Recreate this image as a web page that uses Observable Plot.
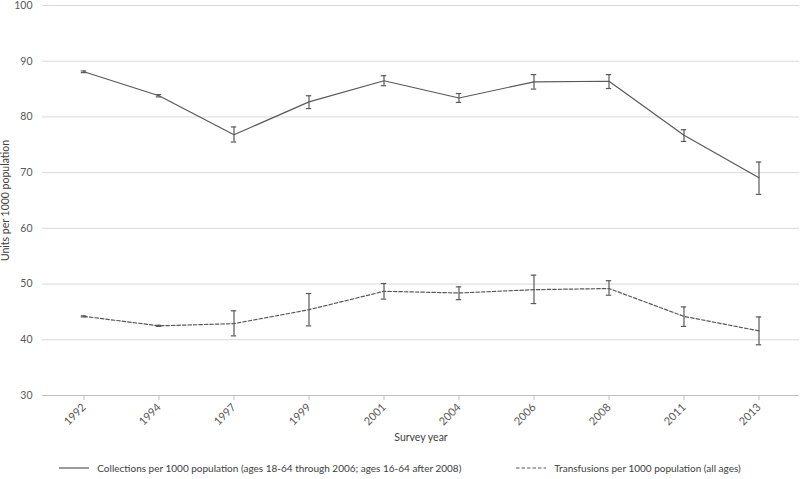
<!DOCTYPE html>
<html>
<head>
<meta charset="utf-8">
<script src="https://cdn.jsdelivr.net/npm/d3@7"></script>
<script src="https://cdn.jsdelivr.net/npm/@observablehq/plot@0.6"></script>
<style>
  body { margin: 0; background: #fff; font-family: Lato, "Open Sans", sans-serif; }
  #chart svg { display: block; }
  #legend { height: 23px; display: flex; justify-content: center; align-items: center;
            font-size: 10px; color: #404040; gap: 55px; }
  .item { display: flex; align-items: center; gap: 8px; white-space: nowrap; }
</style>
</head>
<body>
<div id="chart"></div>
<div id="legend"></div>
<script>
// ---- Data ----
const years = ["1992", "1994", "1997", "1999", "2001", "2004", "2006", "2008", "2011", "2013"];

const collections     = [88.1, 83.8, 76.8, 82.7, 86.5, 83.4, 86.3, 86.4, 76.7, 69.1];
const collectionsLow  = [87.95, 83.6, 75.5, 81.5, 85.6, 82.6, 85.0, 85.1, 75.6, 66.1];
const collectionsHigh = [88.25, 84.0, 78.2, 83.8, 87.4, 84.2, 87.6, 87.6, 77.7, 71.9];

const transfusions     = [44.2, 42.5, 42.9, 45.4, 48.7, 48.4, 49.0, 49.2, 44.2, 41.6];
const transfusionsLow  = [44.1, 42.4, 40.7, 42.5, 47.3, 47.2, 46.5, 48.0, 42.4, 39.1];
const transfusionsHigh = [44.3, 42.6, 45.2, 48.3, 50.1, 49.5, 51.6, 50.6, 45.9, 44.1];

const yTicks = [30, 40, 50, 60, 70, 80, 90, 100];
const gridTicks = [40, 50, 60, 70, 80, 90, 100];
const yLabel = "Units per 1000 population";
const xLabel = "Survey year";
const seriesNames = [
  "Collections per 1000 population (ages 18-64 through 2006; ages 16-64 after 2008)",
  "Transfusions per 1000 population (all ages)"
];

// ---- Build tables ----
const collRows = years.map((y, i) => ({year: y, value: collections[i], lo: collectionsLow[i], hi: collectionsHigh[i]}));
const transRows = years.map((y, i) => ({year: y, value: transfusions[i], lo: transfusionsLow[i], hi: transfusionsHigh[i]}));

const lineColor = "#595959";
const barColor = "#595959";
const capInset = 34.8;

const errorMarks = (rows) => [
  Plot.ruleX(rows, {x: "year", y1: "lo", y2: "hi", stroke: barColor, strokeWidth: 1.2}),
  Plot.tickY(rows, {x: "year", y: "hi", stroke: barColor, strokeWidth: 1.2, insetLeft: capInset, insetRight: capInset}),
  Plot.tickY(rows, {x: "year", y: "lo", stroke: barColor, strokeWidth: 1.2, insetLeft: capInset, insetRight: capInset})
];

const chart = Plot.plot({
  width: 800,
  height: 456,
  marginLeft: 42,
  marginRight: 1,
  marginTop: 5,
  marginBottom: 61,
  style: {fontFamily: "Lato, 'Open Sans', sans-serif", fontSize: "10.5px", color: "#595959", background: "#fff"},
  x: {type: "band", domain: years, padding: 0, label: null},
  y: {domain: [30, 100], label: null},
  marks: [
    Plot.gridY(gridTicks, {stroke: "#d9d9d9", strokeOpacity: 1}),
    Plot.ruleY([30], {stroke: "#bfbfbf", strokeWidth: 1}),
    Plot.axisY(yTicks, {tickSize: 0, tickPadding: 10, fontSize: 10.5, fill: "#595959", label: null}),
    Plot.axisX({tickRotate: -45, tickSize: 5, tickPadding: 5, stroke: "#bfbfbf", fill: "#595959", fontSize: 11, label: null}),
    Plot.line(collRows, {x: "year", y: "value", stroke: lineColor, strokeWidth: 1.2}),
    Plot.line(transRows, {x: "year", y: "value", stroke: lineColor, strokeWidth: 1.2, strokeDasharray: "3.5,2"}),
    ...errorMarks(collRows),
    ...errorMarks(transRows),
    Plot.text([yLabel], {frameAnchor: "left", textAnchor: "middle", rotate: -90, dx: -37, fill: "#404040", fontSize: 10.5}),
    Plot.text([xLabel], {frameAnchor: "bottom", dy: 45, fill: "#404040", fontSize: 10.5})
  ]
});
document.getElementById("chart").appendChild(chart);

// ---- Legend ----
const legend = document.getElementById("legend");
const dashes = [null, "3.5,2"];
seriesNames.forEach((name, i) => {
  const item = document.createElement("div");
  item.className = "item";
  const dash = dashes[i] ? `stroke-dasharray="${dashes[i]}"` : "";
  item.innerHTML = `<svg width="30" height="6"><line x1="0" y1="3" x2="30" y2="3" stroke="${lineColor}" stroke-width="1.2" ${dash}/></svg><span>${name}</span>`;
  legend.appendChild(item);
});
</script>
</body>
</html>
